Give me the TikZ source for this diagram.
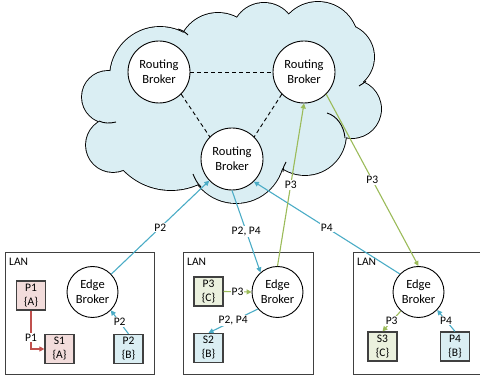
\documentclass[tikz,border=0pt]{standalone}
\usepackage{fontspec}
\setmainfont{Carlito}
\usepackage{xcolor}
\usepackage{tikz}
\usetikzlibrary{arrows.meta,positioning}

\definecolor{cloudfill}{HTML}{DAEEF3}
\definecolor{pubred}{HTML}{F2DCDB}
\definecolor{pubgreen}{HTML}{EBF1DE}
\definecolor{pubblue}{HTML}{DAEEF3}
\definecolor{flowblue}{HTML}{4BACC6}
\definecolor{flowgreen}{HTML}{9BBB59}
\definecolor{flowred}{HTML}{C0504D}

\begin{document}
\begin{tikzpicture}[
      x=1pt, y=-1pt,
      broker/.style = {circle, draw=black, line width=0.9pt, fill=white, inner sep=0pt, align=center, font=\fontsize{12.5}{15}\selectfont},
      router/.style = {broker, minimum size=62pt},
      edgebroker/.style = {broker, minimum size=51pt},
      lan/.style = {rectangle, draw=black!75, line width=1.2pt, anchor=north west, minimum height=122pt},
      lantitle/.style = {anchor=north west, inner xsep=4pt, inner ysep=5.5pt, font=\fontsize{11.5}{14}\selectfont},
      topic/.style = {rectangle, draw=black!75, line width=1.2pt, minimum width=29pt, minimum height=29pt, inner sep=0pt, align=center, font=\fontsize{11.5}{14}\selectfont},
      arrow/.style = {-{Triangle[length=5pt, width=5pt]}, line width=1.1pt},
      lbl/.style = {fill=white, inner sep=1pt, text=black, font=\fontsize{11.5}{14}\selectfont},
      peer/.style = {dash pattern=on 4pt off 3pt, line width=0.9pt}
    ]
    \useasboundingbox (0,0) rectangle (480,379);

    % cloud: thick outline first, fill on top leaves the outer edge
    \foreach \cx/\cy/\r in {108/97/26, 160/77/50, 218/53/40, 264/35/32, 318/42/40, 341/57/33,
                             352/109/29, 305/134/41, 236/155/48, 171/124/66, 113/145/27}
      \draw[line width=1.8pt] (\cx,\cy) circle[radius=\r];
    \foreach \cx/\cy/\r in {108/97/26, 160/77/50, 218/53/40, 264/35/32, 318/42/40, 341/57/33,
                             352/109/29, 305/134/41, 236/155/48, 171/124/66, 113/145/27,
                             250/100/55, 315/90/35}
      \fill[cloudfill] (\cx,\cy) circle[radius=\r];
    \begin{scope}[line width=0.9pt]
      \draw (99,121) .. controls (104,123.5) and (110,123.5) .. (116,122);
      \draw (178,29) .. controls (182,30) and (185,32) .. (188,35);
      \draw (366,81) .. controls (364,83) and (362,84) .. (359,86);
      \draw (327,113) .. controls (337,116) and (344,126) .. (345,138);
      \draw (286,162) .. controls (284,165) and (283,168) .. (283,172);
      \draw (193,174) .. controls (195,179) and (197,183) .. (201,187);
    \end{scope}

    % LANs
    \node[lan, minimum width=149pt] (lan1) at (5,252) {};
    \node[lan, minimum width=130pt] (lan2) at (183,252) {};
    \node[lan, minimum width=140pt] (lan3) at (353,252) {};
    \node[lantitle] (lan1t) at (lan1.north west) {LAN};
    \node[lantitle] (lan2t) at (lan2.north west) {LAN};
    \node[lantitle] (lan3t) at (lan3.north west) {LAN};

    % brokers
    \node[router] (rbL) at (159,72) {Routing\\Broker};
    \node[router] (rbR) at (304,72) {Routing\\Broker};
    \node[router] (rbB) at (232,159) {Routing\\Broker};
    \node[edgebroker] (eb1) at (92.5,292) {Edge\\Broker};
    \node[edgebroker] (eb2) at (277.5,292) {Edge\\Broker};
    \node[edgebroker] (eb3) at (418.5,292) {Edge\\Broker};

    % publishers and subscribers
    \node[topic, fill=pubred]   (p1) at (31,295.5)  {P1\\\{A\}};
    \node[topic, fill=pubred]   (s1) at (59.5,349)  {S1\\\{A\}};
    \node[topic, fill=pubblue]  (p2) at (128.5,349) {P2\\\{B\}};
    \node[topic, fill=pubgreen] (p3) at (208.5,291.5) {P3\\\{C\}};
    \node[topic, fill=pubblue]  (s2) at (208.5,348) {S2\\\{B\}};
    \node[topic, fill=pubgreen] (s3) at (382.5,346.5) {S3\\\{C\}};
    \node[topic, fill=pubblue]  (p4) at (455,346.5) {P4\\\{B\}};

    % broker overlay
    \draw[peer] (rbL) -- (rbR);
    \draw[peer] (rbL.-45) -- (rbB.135);
    \draw[peer] (rbR.-135) -- (rbB.45);

    % flows
    \draw[arrow, flowblue] (eb1) -- node[lbl] {P2} (rbB);
    \draw[arrow, flowblue] (rbB.south) -- node[lbl] {P2, P4} (eb2.131);
    \draw[arrow, flowblue] (eb3.136) -- node[lbl] {P4} (rbB.-46);
    \draw[arrow, flowgreen] (eb2.north) -- node[lbl] {P3} (rbR.south);
    \draw[arrow, flowgreen] (rbR.-45) -- node[lbl] {P3} (eb3.north);

    \draw[arrow, flowred] (p1.south) |- node[lbl, pos=0.35] {P1} (s1.west);
    \draw[arrow, flowblue] (p2.north) -- node[lbl] {P2} (eb1.-45);
    \draw[arrow, flowgreen] (p3.east) -- node[lbl] {P3} (eb2.west);
    \draw[arrow, flowblue] (eb2.-139) -- node[lbl] {P2, P4} (s2.north);
    \draw[arrow, flowgreen] (eb3.-133) -- node[lbl] {P3} (s3.north);
    \draw[arrow, flowblue] (p4.north) -- node[lbl] {P4} (eb3.-44);
  \end{tikzpicture}
\end{document}
